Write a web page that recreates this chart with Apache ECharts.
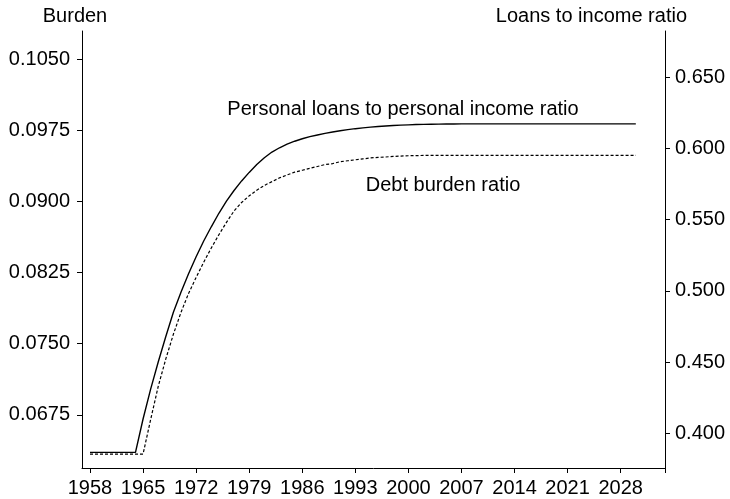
<!DOCTYPE html>
<html>
<head>
<meta charset="utf-8">
<script src="https://cdn.jsdelivr.net/npm/echarts@6/dist/echarts.min.js"></script>
<style>
  html, body { margin: 0; padding: 0; background: #fff; }
  #chart { width: 730px; height: 499px; }
</style>
</head>
<body>
<div id="chart"></div>
<script>
// years on the x axis, 1958 - 2030
const years = [
    1958, 1959, 1960, 1961, 1962, 1963, 1964, 1965, 1966, 1967,
    1968, 1969, 1970, 1971, 1972, 1973, 1974, 1975, 1976, 1977,
    1978, 1979, 1980, 1981, 1982, 1983, 1984, 1985, 1986, 1987,
    1988, 1989, 1990, 1991, 1992, 1993, 1994, 1995, 1996, 1997,
    1998, 1999, 2000, 2001, 2002, 2003, 2004, 2005, 2006, 2007,
    2008, 2009, 2010, 2011, 2012, 2013, 2014, 2015, 2016, 2017,
    2018, 2019, 2020, 2021, 2022, 2023, 2024, 2025, 2026, 2027,
    2028, 2029, 2030
];

// personal loans to personal income ratio (right axis)
const loansRatio = [
    0.3866, 0.3866, 0.3866, 0.3866, 0.3866, 0.3866, 0.3866,
    0.410, 0.431, 0.450, 0.468, 0.485, 0.499, 0.512, 0.524, 0.535, 0.545,
    0.5545, 0.5630, 0.5705, 0.5772, 0.5832, 0.5887, 0.5935, 0.5975, 0.6005, 0.6030,
    0.6051, 0.6068, 0.6083, 0.6095, 0.6106, 0.6116, 0.6124, 0.6132, 0.6139, 0.6145,
    0.6150, 0.6154, 0.6158, 0.6161, 0.6164, 0.6166, 0.6168, 0.6169, 0.6170, 0.6171,
    0.6172, 0.6172, 0.6173, 0.6173, 0.6173, 0.6173, 0.6173, 0.6173, 0.6173, 0.6173,
    0.6173, 0.6173, 0.6173, 0.6173, 0.6173, 0.6173, 0.6173, 0.6173, 0.6173, 0.6173,
    0.6173, 0.6173, 0.6173, 0.6173, 0.6173, 0.6173
];

// debt burden ratio (left axis)
const burdenRatio = [
    0.06336, 0.06336, 0.06336, 0.06336, 0.06336, 0.06336, 0.06336, 0.06336,
    0.0670, 0.0705, 0.0734, 0.0760, 0.0783, 0.0803, 0.0820, 0.0836, 0.0851, 0.0865,
    0.0878, 0.0890, 0.0899, 0.0906, 0.0912, 0.0917, 0.0921, 0.0925, 0.0928, 0.0931,
    0.0933, 0.0935, 0.0937, 0.0939, 0.0940, 0.0942, 0.0943, 0.0944, 0.0945, 0.09460,
    0.09466, 0.0947, 0.09476, 0.0948, 0.09483, 0.09485, 0.09486, 0.09486, 0.09486, 0.09486,
    0.09486, 0.09486, 0.09486, 0.09486, 0.09486, 0.09486, 0.09486, 0.09486, 0.09486, 0.09486,
    0.09486, 0.09486, 0.09486, 0.09486, 0.09486, 0.09486, 0.09486, 0.09486, 0.09486, 0.09486,
    0.09486, 0.09486, 0.09486, 0.09486, 0.09486
];

// tick labels
const yearTicks = [1958, 1965, 1972, 1979, 1986, 1993, 2000, 2007, 2014, 2021, 2028];
const burdenTicks = [0.0675, 0.0750, 0.0825, 0.0900, 0.0975, 0.1050];
const loansTicks = [0.400, 0.450, 0.500, 0.550, 0.600, 0.650];

const xMin = 1956.945, xMax = 2033.85;
const font = 'Liberation Sans, Arial, Helvetica, sans-serif';
const axisColor = '#000';

let myChart = echarts.init(document.getElementById('chart'), null, {renderer: 'canvas'});

let option = {
    backgroundColor: '#fff',
    animation: false,
    grid: {left: 82, right: 65, top: 31, bottom: 31, containLabel: false, outerBoundsMode: 'none'},
    xAxis: {
        type: 'value',
        min: xMin,
        max: xMax,
        axisLine: {onZero: false, lineStyle: {color: axisColor, width: 1}},
        axisTick: {length: 5, lineStyle: {color: axisColor}, customValues: yearTicks.concat([xMax])},
        axisLabel: {
            customValues: yearTicks,
            margin: 10,
            color: '#000',
            fontSize: 20,
            fontFamily: font,
            formatter: v => String(Math.round(v))
        },
        splitLine: {show: false}
    },
    yAxis: [
        {
            type: 'value',
            position: 'left',
            min: 0.06189,
            max: 0.10799,
            axisLine: {show: true, lineStyle: {color: axisColor, width: 1}},
            axisTick: {show: true, length: 5, lineStyle: {color: axisColor}, customValues: burdenTicks},
            axisLabel: {
                customValues: burdenTicks,
                margin: 12,
                color: '#000',
                fontSize: 20,
                fontFamily: font,
                formatter: v => v.toFixed(4)
            },
            splitLine: {show: false}
        },
        {
            type: 'value',
            position: 'right',
            min: 0.3756,
            max: 0.6825,
            axisLine: {show: true, lineStyle: {color: axisColor, width: 1}},
            axisTick: {show: true, length: 5, lineStyle: {color: axisColor}, customValues: loansTicks},
            axisLabel: {
                customValues: loansTicks,
                margin: 10,
                color: '#000',
                fontSize: 20,
                fontFamily: font,
                formatter: v => v.toFixed(3)
            },
            splitLine: {show: false}
        }
    ],
    graphic: [
        {type: 'text', x: 75, y: 16.5, style: {text: 'Burden', fill: '#000', font: '20px ' + font, textAlign: 'center', textVerticalAlign: 'middle'}},
        {type: 'text', x: 687, y: 16.5, style: {text: 'Loans to income ratio', fill: '#000', font: '20px ' + font, textAlign: 'right', textVerticalAlign: 'middle'}},
        {type: 'text', x: 403, y: 109.8, style: {text: 'Personal loans to personal income ratio', fill: '#000', font: '20px ' + font, textAlign: 'center', textVerticalAlign: 'middle'}},
        {type: 'text', x: 443, y: 185.5, style: {text: 'Debt burden ratio', fill: '#000', font: '20px ' + font, textAlign: 'center', textVerticalAlign: 'middle'}}
    ],
    series: [
        {
            name: 'Personal loans to personal income ratio',
            type: 'line',
            yAxisIndex: 1,
            showSymbol: false,
            smooth: false,
            lineStyle: {color: '#000', width: 1.4},
            data: years.map((y, i) => [y, loansRatio[i]])
        },
        {
            name: 'Debt burden ratio',
            type: 'line',
            yAxisIndex: 0,
            showSymbol: false,
            smooth: false,
            lineStyle: {color: '#000', width: 1.2, type: [3, 2]},
            data: years.map((y, i) => [y, burdenRatio[i]])
        }
    ]
};

myChart.setOption(option);
</script>
</body>
</html>
